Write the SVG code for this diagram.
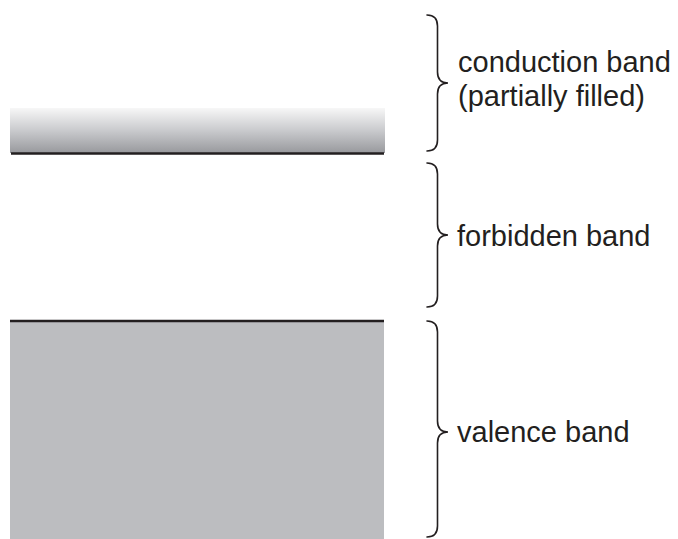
<svg xmlns="http://www.w3.org/2000/svg" width="678" height="539" viewBox="0 0 678 539">
<defs>
<linearGradient id="cg" x1="0" y1="0" x2="0" y2="1">
<stop offset="0" stop-color="#f7f7f7"/>
<stop offset="0.5" stop-color="#c9cacd"/>
<stop offset="1" stop-color="#98999d"/>
</linearGradient>
<style>
.brace{fill:none;stroke:#231f20;stroke-width:1.6;stroke-linecap:round}
.edge{stroke:#231f20;stroke-width:2.6}
.lbl{font-family:"Liberation Sans",Arial,sans-serif;font-size:29px;fill:#231f20}
</style>
</defs>
<rect width="678" height="539" fill="#ffffff"/>
<g id="conduction-band">
<rect x="10" y="108" width="375" height="45" fill="url(#cg)"/>
<line class="edge" x1="11" y1="153.5" x2="384" y2="153.5"/>
</g>
<g id="valence-band">
<rect x="10" y="321" width="374" height="218" fill="#bcbdc0"/>
<line class="edge" x1="10" y1="321" x2="384" y2="321"/>
</g>
<g id="connectors">
<path class="brace" d="M427,15 Q437.5,15 437.5,26 V72 Q437.5,83 448,83 Q437.5,83 437.5,94 V140 Q437.5,151 427,151"/>
<path class="brace" d="M427,163 Q437.5,163 437.5,174 V224 Q437.5,235 448,235 Q437.5,235 437.5,246 V296 Q437.5,307 427,307"/>
<path class="brace" d="M427,321 Q437.5,321 437.5,332 V421 Q437.5,432 448,432 Q437.5,432 437.5,443 V526 Q437.5,537 427,537"/>
</g>
<g id="label-conduction">
<text class="lbl" x="458" y="72">conduction band</text>
<text class="lbl" x="458" y="106">(partially filled)</text>
</g>
<g id="label-forbidden">
<text class="lbl" x="457" y="246">forbidden band</text>
</g>
<g id="label-valence">
<text class="lbl" x="457" y="442">valence band</text>
</g>
</svg>
